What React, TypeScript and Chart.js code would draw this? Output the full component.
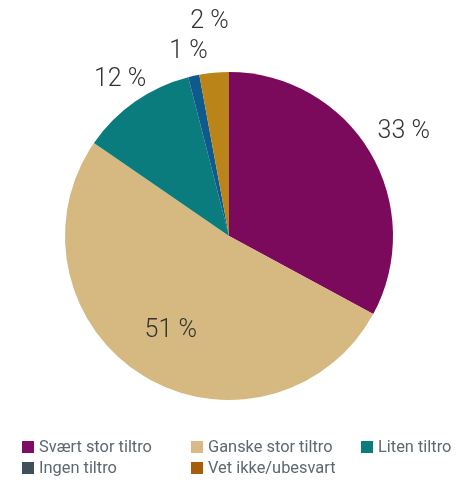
import React, { useEffect, useRef } from "react";
import { Chart, registerables } from "chart.js";

Chart.register(...registerables);

const categories = ["Svært stor tiltro", "Ganske stor tiltro", "Liten tiltro", "Ingen tiltro", "Vet ikke/ubesvart"];
const values = [32.9, 51.7, 11.4, 1.1, 2.9];
const valueLabels = ["33 %", "51 %", "12 %", "1 %", "2 %"];
const sliceColors = ["#7b0a5c", "#d5b981", "#0a7c7e", "#0f5a8c", "#bb8418"];
const legendColors = ["#7e0c62", "#d9b985", "#0b7b7b", "#3f4f5a", "#a55e0a"];

const labelRadius = [1.24, 0.68, 1.16, 1.15, 1.31];
const FONT = "Roboto, 'Open Sans', sans-serif";

const labelPlugin = {
  id: "sliceLabels",
  afterDatasetsDraw(chart: any) {
    const ctx = chart.ctx;
    const meta = chart.getDatasetMeta(0);
    ctx.save();
    ctx.font = `300 25px ${FONT}`;
    ctx.fillStyle = "#333333";
    ctx.textAlign = "center";
    ctx.textBaseline = "middle";
    meta.data.forEach((arc: any, i: number) => {
      const { x, y, startAngle, endAngle, outerRadius } = arc.getProps(
        ["x", "y", "startAngle", "endAngle", "outerRadius"],
        true
      );
      const mid = (startAngle + endAngle) / 2;
      const r = outerRadius * labelRadius[i];
      ctx.fillText(valueLabels[i], x + Math.cos(mid) * r, y + Math.sin(mid) * r);
    });
    ctx.restore();
  },
};

const legendPlugin = {
  id: "gridLegend",
  afterDraw(chart: any) {
    const ctx = chart.ctx;
    ctx.save();
    ctx.font = `400 16.4px ${FONT}`;
    ctx.textBaseline = "middle";
    ctx.textAlign = "left";
    const colX = [22, 191, 361];
    const rowY = [447, 468];
    categories.forEach((c, i) => {
      const col = i % 3;
      const row = Math.floor(i / 3);
      const x = colX[col];
      const y = rowY[row];
      ctx.fillStyle = legendColors[i];
      ctx.fillRect(x, y - 6, 12, 12);
      ctx.fillStyle = "#5d6870";
      ctx.fillText(c, x + 17, y + 1);
    });
    ctx.restore();
  },
};

export default function App() {
  const ref = useRef<HTMLCanvasElement>(null);
  useEffect(() => {
    if (!ref.current) return;
    const chart = new Chart(ref.current, {
      type: "pie",
      data: {
        labels: categories,
        datasets: [
          {
            data: values,
            backgroundColor: sliceColors,
            borderWidth: 0,
          },
        ],
      },
      options: {
        responsive: false,
        animation: false,
        layout: { padding: { left: 0, right: 4, top: 72, bottom: 80 } },
        plugins: {
          legend: { display: false },
          tooltip: { enabled: false },
        },
      },
      plugins: [labelPlugin, legendPlugin],
    });
    return () => chart.destroy();
  }, []);
  return (
    <div style={{ width: 462, height: 480, margin: "-8px 0 0 -8px", position: "relative" }}>
      <canvas
        ref={ref}
        width={462}
        height={480}
        style={{ display: "block", width: 462, height: 480 }}
      />
    </div>
  );
}
